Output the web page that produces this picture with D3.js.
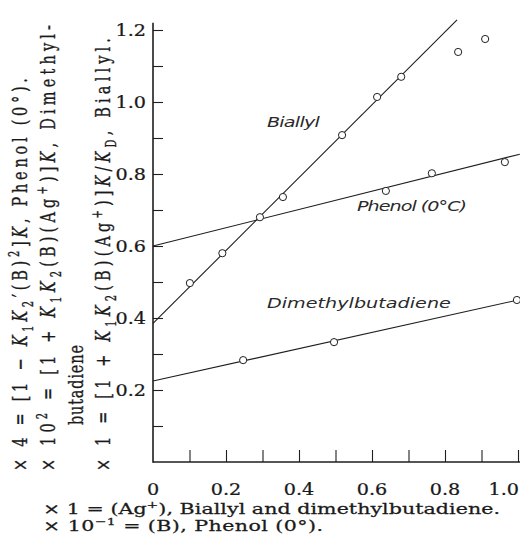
<!DOCTYPE html>
<html>
<head>
<meta charset="utf-8">
<script src="https://cdn.jsdelivr.net/npm/d3@7"></script>
<style>
  html, body { margin: 0; padding: 0; background: #fff; }
  svg { display: block; }
  .serif { font-family: "DejaVu Serif", "Liberation Serif", serif; fill: #1a1a1a; stroke: #1a1a1a; stroke-width: 0.25; }
  .curve-label { font-family: "DejaVu Sans", "Liberation Sans", sans-serif; font-style: italic; font-weight: 200; fill: #2a2a2a; }
</style>
</head>
<body>
<svg id="chart" width="520" height="554"></svg>
<script>
// Measured points (x: (Ag+) or (B)×10, y: scaled function value)
const biallylX = [0.101, 0.19, 0.356, 0.518, 0.614, 0.68, 0.836, 0.91];
const biallylY = [0.497, 0.58, 0.736, 0.908, 1.014, 1.07, 1.139, 1.175];
const phenolX = [0.293, 0.638, 0.764, 0.964];
const phenolY = [0.68, 0.753, 0.802, 0.833];
const dmbX = [0.247, 0.496, 0.997];
const dmbY = [0.283, 0.333, 0.45];

// Straight lines drawn through each set: [x, y] at both ends
const biallylFit = [[0, 0.385], [0.833, 1.228]];
const phenolFit = [[0, 0.6], [1.005, 0.855]];
const dmbFit = [[0, 0.225], [1.0, 0.45]];

// Axis ticks and labels
const xTicks = [0.1, 0.2, 0.3, 0.4, 0.5, 0.6, 0.7, 0.8, 0.9, 1.0];
const xLabelValues = [0, 0.2, 0.4, 0.6, 0.8, 1.0];
const xLabelText = ["0", "0.2", "0.4", "0.6", "0.8", "1.0"];
const yTicks = [0.1, 0.2, 0.3, 0.4, 0.5, 0.6, 0.7, 0.8, 0.9, 1.0, 1.1, 1.2];
const yLabelValues = [0.2, 0.4, 0.6, 0.8, 1.0, 1.2];
const yLabelText = ["0.2", "0.4", "0.6", "0.8", "1.0", "1.2"];

const W = 520;
const svg = d3.select("#chart");
const x = d3.scaleLinear().domain([0, 1]).range([153, 518]);
const y = d3.scaleLinear().domain([0, 1.2]).range([462, 30]);

const ink = "#1e1e1e";
const wide = 1.42;   // the lettering is set noticeably wide

// Axis lines
svg.append("line").attr("x1", x(0)).attr("x2", W).attr("y1", y(0)).attr("y2", y(0))
  .attr("stroke", ink).attr("stroke-width", 1.6);
svg.append("line").attr("x1", x(0)).attr("x2", x(0)).attr("y1", y(0) + 0.8).attr("y2", y(1.22))
  .attr("stroke", ink).attr("stroke-width", 1.6);

// Inward ticks
const yAxis = d3.axisLeft(y).tickValues(yTicks).tickSizeInner(-10).tickSizeOuter(0).tickFormat("");
const gy = svg.append("g").attr("transform", `translate(${x(0)},0)`).call(yAxis);
gy.select(".domain").remove();
gy.selectAll(".tick line").attr("stroke", ink).attr("stroke-width", 1.1);

const xAxis = d3.axisBottom(x).tickValues(xTicks).tickSizeInner(-12).tickSizeOuter(0).tickFormat("");
const gx = svg.append("g").attr("transform", `translate(0,${y(0)})`).call(xAxis);
gx.select(".domain").remove();
gx.selectAll(".tick line").attr("stroke", ink).attr("stroke-width", 1.1);

// Tick labels (widened serif)
const tickFs = 16, tickWide = 1.2;
svg.append("g").selectAll("g").data(yLabelValues).join("g")
  .attr("transform", d => `translate(${x(0) - 7},${y(d)}) scale(${tickWide},1)`)
  .append("text").attr("class", "serif").attr("font-size", tickFs)
  .attr("dy", "0.36em").attr("text-anchor", "end").text((d, i) => yLabelText[i]);
const xl = svg.append("g").selectAll("g").data(xLabelValues).join("g");
xl.append("text").attr("class", "serif").attr("font-size", tickFs)
  .attr("text-anchor", "middle").text((d, i) => xLabelText[i]);
xl.attr("transform", function(d) {
  const half = this.firstChild.getComputedTextLength() * tickWide / 2;
  const cx = Math.min(x(d), W - half - 1);
  return `translate(${cx},495) scale(${tickWide},1)`;
});

// Fitted lines
const line = d3.line().x(d => x(d[0])).y(d => y(d[1]));
[biallylFit, phenolFit, dmbFit].forEach(seg => {
  svg.append("path").attr("d", line(seg)).attr("fill", "none")
    .attr("stroke", ink).attr("stroke-width", 1.1);
});

// Open-circle markers
function markers(xs, ys) {
  svg.append("g").selectAll("circle").data(xs).join("circle")
    .attr("cx", d => x(d)).attr("cy", (d, i) => y(ys[i])).attr("r", 3.6)
    .attr("fill", "#fff").attr("stroke", ink).attr("stroke-width", 1);
}
markers(biallylX, biallylY);
markers(phenolX, phenolY);
markers(dmbX, dmbY);

// Curve names in light, wide italic lettering
function curveLabel(txt, px, py, len) {
  svg.append("g").attr("transform", `translate(${px},${py}) scale(${wide},1)`)
    .append("text").attr("class", "curve-label").attr("font-size", 13.5)
    .attr("textLength", len / wide).attr("lengthAdjust", "spacing")
    .text(txt);
}
curveLabel("Biallyl", x(0.312), y(0.93), 53);
curveLabel("Phenol (0°C)", x(0.559), y(0.698), 110);
curveLabel("Dimethylbutadiene", x(0.312), y(0.428), 184);

// Rich text with italic symbols, subscripts and superscripts
function rich(g, parts, fs) {
  const t = g.append("text").attr("class", "serif").attr("font-size", fs);
  let shift = 0;
  parts.forEach(p => {
    const [s, kind] = typeof p === "string" ? [p, ""] : p;
    let target = 0;
    if (kind === "sub") target = fs * 0.28;
    if (kind === "sup") target = -fs * 0.38;
    const ts = t.append("tspan").text(s).attr("dy", target - shift);
    shift = target;
    if (kind === "i") ts.attr("font-style", "italic");
    if (kind === "sub" || kind === "sup") ts.attr("font-size", fs * 0.68);
  });
  return t;
}

const capFs = 14.5;

// Ordinate captions, reading upward, glyphs widened across the column
function vertical(px, py, parts, len) {
  const g = svg.append("g").attr("transform", `translate(${px},${py}) scale(${wide},1) rotate(-90)`);
  const t = rich(g, parts, capFs);
  t.attr("textLength", len).attr("lengthAdjust", "spacing");
}

const K = ["K", "i"];
vertical(27, 471, ["× 4 = [1 − ", K, ["1", "sub"], K, ["2", "sub"], "′(B)", ["2", "sup"], "]", K, ", Phenol (0°)."], 393);
vertical(55, 471, ["× 10", ["2", "sup"], " = [1 + ", K, ["1", "sub"], K, ["2", "sub"], "(B)(Ag", ["+", "sup"], ")]", K, ", Dimethyl-"], 446);
vertical(83, 425, ["butadiene"], 80);
vertical(110, 471, ["× 1 = [1 + ", K, ["1", "sub"], K, ["2", "sub"], "(B)(Ag", ["+", "sup"], ")]", K, "/", K, ["D", "sub"], ", Biallyl."], 433);

// Abscissa captions
function horizontal(px, py, parts, len) {
  const g = svg.append("g").attr("transform", `translate(${px},${py}) scale(${wide},1)`);
  rich(g, parts, capFs).attr("textLength", len / wide).attr("lengthAdjust", "spacing");
}
horizontal(43, 514, ["× 1 = (Ag", ["+", "sup"], "), Biallyl and dimethylbutadiene."], 457);
horizontal(43, 531, ["× 10", ["−1", "sup"], " = (B), Phenol (0°)."], 280);
</script>
</body>
</html>
